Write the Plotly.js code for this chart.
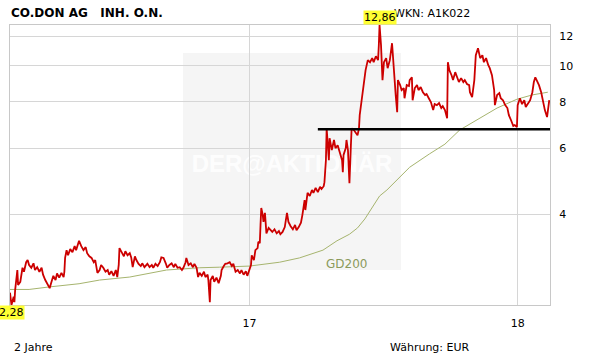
<!DOCTYPE html>
<html>
<head>
<meta charset="utf-8">
<script src="https://cdn.plot.ly/plotly-3.0.1.min.js"></script>
<style>html,body{margin:0;padding:0;background:#fff;}#chart{width:611px;height:364px;}</style>
</head>
<body>
<div id="chart"></div>
<script>
// Day offsets since the first day of the 2-year window (2016-02-10)
const startDay = '2016-02-10';
const priceDays = [0,1,2,5,6,7,10,11,14,17,19,22,24,26,29,32,34,37,40,43,45,48,51,54,56,59,62,64,67,70,73,74,75,77,79,82,85,88,90,93,94,97,100,103,105,108,111,114,116,119,122,124,127,130,133,135,138,141,144,146,148,149,152,155,157,160,163,165,167,170,172,175,178,180,183,187,190,193,195,198,201,204,206,209,212,214,217,220,223,225,228,231,234,236,239,240,243,246,249,251,254,256,258,261,264,266,269,270,272,273,276,278,281,284,287,288,291,293,296,299,302,304,307,310,313,315,318,321,323,326,328,329,332,334,337,338,340,341,342,344,345,347,348,349,352,355,357,360,363,366,368,371,374,377,379,382,385,388,390,393,396,398,401,402,405,408,411,413,416,419,422,424,427,428,430,431,432,434,435,438,441,443,446,449,452,453,454,457,458,460,461,462,464,465,468,471,473,475,476,479,482,484,487,490,493,495,498,501,502,503,505,506,507,509,512,514,517,520,521,522,525,527,528,531,533,536,537,540,543,544,547,548,551,554,556,559,562,565,567,570,573,576,578,581,584,587,589,592,595,596,598,601,603,606,609,611,614,617,619,622,625,626,629,632,634,637,640,643,645,648,651,653,656,659,660,663,666,668,671,674,677,679,682,685,687,690,691,694,697,700,702,705,708,711,713,715,717,720,723,726,728,731,734];
const prices = [2.46,2.32,2.28,2.40,2.32,2.50,2.83,2.58,2.63,2.87,2.80,2.97,3.01,2.92,2.87,2.95,2.83,2.88,2.80,2.87,2.75,2.66,2.60,2.53,2.61,2.73,2.66,2.77,2.70,2.78,2.71,2.80,3.05,3.20,3.10,3.22,3.16,3.28,3.20,3.34,3.39,3.28,3.20,3.26,3.14,3.08,3.05,2.97,3.01,2.78,2.83,2.92,2.87,2.80,2.83,2.75,2.81,2.73,2.83,2.71,2.92,3.24,3.16,3.08,3.18,3.10,3.14,3.06,2.88,3.08,3.01,2.94,2.90,2.95,2.88,2.94,2.88,2.92,2.87,2.94,2.90,2.97,3.06,3.05,2.95,2.87,2.92,2.95,2.88,2.94,2.87,2.88,2.83,2.87,2.97,3.05,2.92,2.95,2.88,2.94,2.87,2.71,2.78,2.73,2.80,2.71,2.75,2.66,2.32,2.66,2.73,2.63,2.70,2.61,2.73,2.83,2.90,2.94,2.95,2.97,2.90,2.94,2.80,2.83,2.77,2.83,2.75,2.81,2.73,2.83,2.92,3.10,3.01,3.20,3.24,3.37,3.34,3.74,4.15,3.98,3.81,4.03,3.74,3.55,3.67,3.62,3.58,3.64,3.55,3.60,3.53,3.58,3.69,4.03,3.81,3.71,3.64,3.74,3.62,3.69,3.79,3.98,4.36,4.10,4.56,4.47,4.64,4.56,4.70,4.58,4.73,4.67,4.75,4.87,5.58,6.79,6.32,5.58,6.39,5.94,6.32,6.01,6.12,5.87,5.58,5.18,5.76,6.01,6.32,5.94,5.41,4.84,6.12,6.79,6.72,6.61,6.51,6.79,7.37,8.18,9.04,9.73,10.35,10.22,10.48,10.22,10.60,10.35,11.35,12.86,11.35,10.35,9.15,10.22,10.48,9.85,10.35,11.49,10.67,9.73,8.34,7.50,9.15,8.87,8.60,8.71,8.18,8.87,8.82,9.15,9.31,8.08,8.71,8.87,8.60,8.76,8.49,8.34,8.39,8.18,7.98,7.60,7.89,7.84,7.94,7.70,7.79,7.60,7.23,10.22,9.73,9.43,9.15,9.61,9.26,9.04,9.26,9.04,9.15,8.93,8.87,8.49,8.23,9.15,10.67,11.14,10.48,10.67,10.22,10.48,10.03,9.85,9.43,8.60,7.84,8.34,8.44,8.18,8.08,7.84,7.70,7.37,7.14,6.89,6.93,6.85,7.84,8.18,7.89,8.08,7.75,7.94,8.08,8.49,9.04,9.31,9.15,8.87,8.49,7.84,7.60,7.28,8.08];
const gd200Days = [0,26,54,94,122,163,213,258,285,326,367,394,426,445,462,473,483,490,503,513,527,544,571,592,612,640,663,690,711,732];
const gd200 = [2.51,2.51,2.55,2.60,2.66,2.71,2.83,2.87,2.88,2.90,2.97,3.05,3.20,3.39,3.53,3.67,3.88,4.07,4.47,4.64,4.93,5.34,5.80,6.16,6.72,7.23,7.70,8.13,8.35,8.49];
const supportDays = [419, 735];
const supportLevel = [6.75, 6.75];
const xTickVals = ['2017-01-01','2018-01-01'];
const xTickText = ['17','18'];
const yTickVals = [4,6,8,10,12];
const yTickText = ['4','6','8','10','12'];

const t0 = Date.parse(startDay + 'T00:00:00Z');
const toDate = d => new Date(t0 + d*864e5).toISOString().slice(0,10);
const priceX = priceDays.map(toDate);
const gdX = gd200Days.map(toDate);
const supX = supportDays.map(toDate);

let iMax = 0, iMin = 0;
prices.forEach((p,i)=>{ if(p>prices[iMax]) iMax=i; if(p<prices[iMin]) iMin=i; });
const fmt = v => v.toFixed(2).replace('.', ',');

const FONT = 'DejaVu Sans, Verdana, sans-serif';

const traces = [
  {x: gdX, y: gd200, type:'scatter', mode:'lines', line:{color:'#a6b46e', width:1}, hoverinfo:'skip'},
  {x: priceX, y: prices, type:'scatter', mode:'lines', line:{color:'#cc0000', width:1.8}, hoverinfo:'skip'},
  {x: supX, y: supportLevel, type:'scatter', mode:'lines', line:{color:'#000000', width:2.5}, hoverinfo:'skip'}
];

const layout = {
  width: 611, height: 364,
  margin: {l:10, r:61, t:25, b:59},
  paper_bgcolor:'#ffffff', plot_bgcolor:'#ffffff',
  showlegend:false,
  font:{family:FONT, size:11, color:'#000'},
  title:{text:'<b>CO.DON AG   INH. O.N.</b>', x:11/611, xref:'container', xanchor:'left', y:1-13/364, yref:'container', yanchor:'middle', font:{family:FONT, size:12, color:'#000'}},
  xaxis:{type:'date', range:['2016-02-10','2018-02-14'], tickvals:xTickVals, ticktext:xTickText,
    showgrid:true, gridcolor:'#d6d6d6', gridwidth:1, showline:true, mirror:true, linecolor:'#c8c8c8', linewidth:1,
    ticks:'', ticklabelstandoff:8, zeroline:false, fixedrange:true, tickfont:{size:11}},
  yaxis:{type:'log', side:'right', range:[Math.log10(2.28), Math.log10(12.86)], tickvals:yTickVals, ticktext:yTickText,
    showgrid:true, gridcolor:'#d6d6d6', gridwidth:1, showline:true, mirror:true, linecolor:'#c8c8c8', linewidth:1,
    ticks:'', ticklabelstandoff:6, zeroline:false, fixedrange:true, tickfont:{size:11}},
  shapes:[
    {type:'rect', xref:'paper', yref:'paper', x0:(183-10)/540, x1:(401-10)/540, y0:(305-270)/280, y1:(305-53)/280,
      fillcolor:'#f5f5f5', line:{width:0}, layer:'below'},
    {type:'rect', xref:'paper', yref:'paper', x0:(183-10)/540, x1:(401-10)/540, y0:(305-180)/280, y1:(305-143)/280,
      fillcolor:'rgba(0,0,0,0)', line:{width:0}, layer:'between',
      label:{text:'<b>DER@AKTIONÄR</b>', textposition:'middle center', font:{family:'Liberation Sans, Arial, sans-serif', size:24, color:'rgba(255,255,255,0.9)'}}}
  ],
  annotations:[
    {text:'WKN: A1K022', xref:'paper', yref:'paper', x:(392-10)/540, y:(305-14)/280, xanchor:'left', yanchor:'middle', showarrow:false, font:{size:11}},
    {text:'2 Jahre', xref:'paper', yref:'paper', x:(12-10)/540, y:(305-347)/280, xanchor:'left', yanchor:'middle', showarrow:false, font:{size:11}},
    {text:'Währung: EUR', xref:'paper', yref:'paper', x:(388-10)/540, y:(305-347)/280, xanchor:'left', yanchor:'middle', showarrow:false, font:{size:11}},
    {text:'GD200', xref:'paper', yref:'paper', x:(346-10)/540, y:(305-264)/280, xanchor:'center', yanchor:'middle', showarrow:false, font:{size:12, color:'#8b9a5c'}},
    {text:fmt(prices[iMax]), xref:'x', yref:'paper', x:priceX[iMax], y:1, xanchor:'center', yanchor:'bottom', showarrow:false, bgcolor:'#ffff33', borderpad:0, font:{size:11}},
    {text:fmt(prices[iMin]), xref:'x', yref:'paper', x:priceX[iMin], y:0, xanchor:'center', yanchor:'top', showarrow:false, bgcolor:'#ffff33', borderpad:0, font:{size:11}}
  ]
};

Plotly.newPlot('chart', traces, layout, {staticPlot:true, displayModeBar:false});
</script>
</body>
</html>
